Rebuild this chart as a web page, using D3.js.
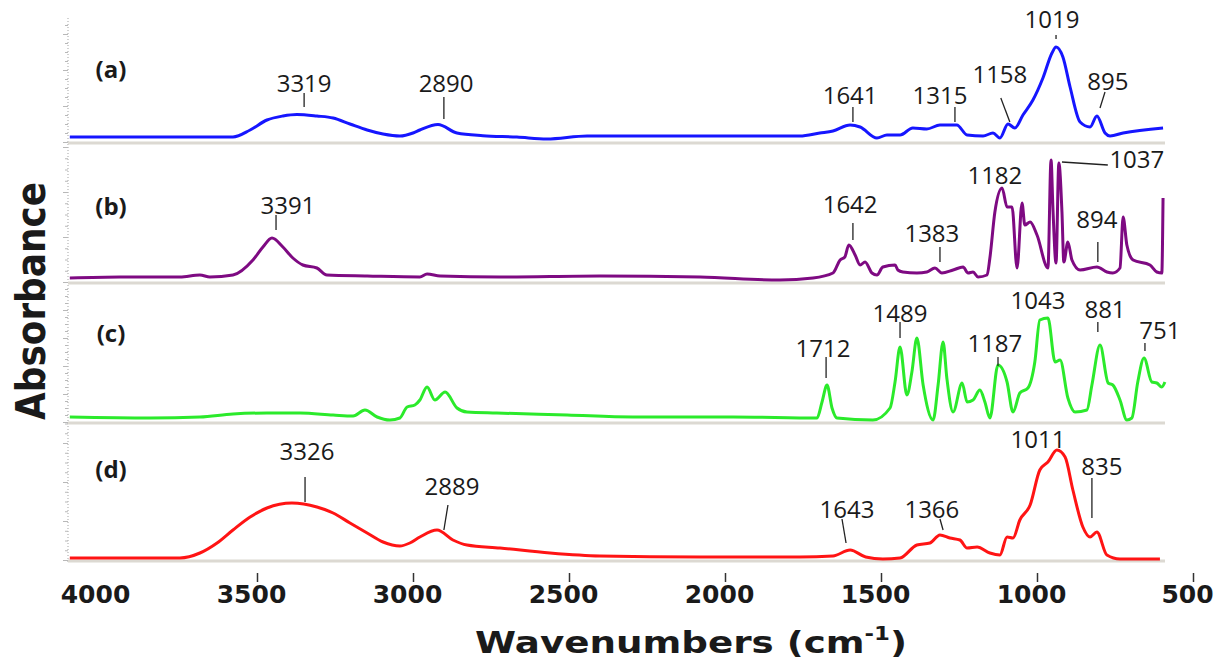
<!DOCTYPE html>
<html>
<head>
<meta charset="utf-8">
<script src="https://cdnjs.cloudflare.com/ajax/libs/d3/7.8.5/d3.min.js"></script>
<style>
  body { margin: 0; background: #fff; }
</style>
</head>
<body>
<script>
// FTIR spectra, four stacked panels (a)-(d)

var xTicks = [4000, 3500, 3000, 2500, 2000, 1500, 1000, 500];

// [wavenumber, absorbance (a.u.)]
var spectrumA = [
  [4100,.05],[3843,.05],[3577,.05],[3522,.12],[3468,.22],[3417,.26],[3372,.275],[3308,.26],
  [3256,.24],[3202,.18],[3147,.12],[3096,.08],[3042,.06],[3000,.09],[2978,.12],[2920,.175],
  [2859,.09],[2776,.063],[2667,.05],[2571,.03],[2442,.06],[1760,.06],[1696,.09],[1654,.11],
  [1599,.17],[1567,.15],[1513,.04],[1481,.07],[1439,.07],[1398,.14],[1353,.13],[1311,.17],
  [1257,.17],[1224,.07],[1173,.06],[1141,.09],[1119,.04],[1093,.18],[1071,.14],[1045,.27],
  [1013,.42],[981,.64],[952,.89],[939,.95],[917,.85],[894,.55],[862,.20],[830,.15],
  [808,.26],[782,.09],[766,.06],[724,.09],[596,.14]
];

var spectrumB = [
  [4100,.04],[3939,.05],[3747,.05],[3683,.07],[3651,.05],[3577,.07],[3513,.22],[3481,.35],
  [3452,.44],[3417,.35],[3385,.24],[3353,.17],[3308,.14],[3276,.07],[3147,.06],[2978,.05],
  [2955,.08],[2913,.06],[2721,.05],[2401,.06],[2080,.05],[1824,.02],[1718,.04],[1654,.09],
  [1631,.22],[1616,.25],[1603,.37],[1583,.27],[1567,.17],[1551,.20],[1529,.09],[1513,.07],
  [1494,.15],[1455,.17],[1446,.12],[1430,.10],[1385,.09],[1353,.10],[1327,.14],[1305,.09],
  [1269,.12],[1237,.15],[1221,.09],[1205,.10],[1189,.05],[1160,.07],[1151,.24],[1135,.70],
  [1112,.94],[1096,.75],[1080,.75],[1064,.14],[1048,.79],[1039,.57],[1022,.60],[1000,.47],
  [965,.14],[955,1.22],[949,.74],[939,.19],[930,1.19],[920,.70],[914,.20],[901,.40],
  [888,.22],[862,.12],[808,.15],[776,.10],[757,.09],[734,.14],[724,.65],[712,.37],
  [692,.22],[638,.17],[616,.10],[600,.09],[596,.84]
];

var spectrumC = [
  [4100,.05],[3843,.04],[3683,.05],[3577,.08],[3468,.09],[3362,.09],[3256,.07],[3192,.06],
  [3154,.12],[3115,.05],[3074,.02],[3042,.04],[3019,.15],[2994,.17],[2978,.22],[2955,.35],
  [2930,.22],[2897,.30],[2859,.14],[2827,.10],[2731,.09],[2506,.07],[2295,.05],[1974,.05],
  [1705,.04],[1689,.20],[1673,.37],[1657,.14],[1641,.04],[1526,.02],[1471,.14],[1455,.40],
  [1439,.75],[1417,.27],[1401,.50],[1385,.84],[1365,.37],[1333,.02],[1317,.37],[1301,.80],
  [1289,.44],[1269,.10],[1240,.39],[1224,.20],[1205,.22],[1183,.32],[1167,.20],[1151,.04],
  [1125,.57],[1096,.40],[1077,.10],[1055,.29],[1029,.34],[1007,.60],[991,1.02],[965,1.04],
  [942,.60],[926,.62],[901,.24],[878,.10],[840,.12],[824,.37],[798,.77],[772,.39],
  [757,.37],[734,.22],[712,.02],[696,.04],[677,.40],[657,.64],[632,.40],[616,.39],
  [600,.35],[590,.40]
];

var spectrumD = [
  [4100,.02],[3747,.02],[3683,.07],[3628,.17],[3577,.30],[3522,.43],[3468,.52],[3388,.57],
  [3308,.53],[3256,.47],[3202,.37],[3147,.27],[3096,.18],[3042,.14],[3010,.17],[2978,.23],
  [2923,.30],[2872,.20],[2827,.15],[2721,.12],[2561,.07],[2401,.04],[2080,.03],[1760,.03],
  [1654,.04],[1599,.10],[1549,.03],[1494,.01],[1439,.02],[1385,.15],[1343,.17],[1311,.25],
  [1279,.22],[1247,.20],[1224,.12],[1192,.13],[1151,.07],[1119,.05],[1096,.23],[1077,.22],
  [1055,.40],[1022,.55],[991,.90],[965,.98],[936,1.10],[910,1.03],[885,.70],[853,.33],
  [830,.23],[808,.28],[776,.05],[734,.01],[606,.01]
];

// peak labels: text, text centre [wn, abs], leader line [wn1, abs1, wn2, abs2]
var notesA = [
  ["3319", 3349, .60, [3349, .49, 3349, .35]],
  ["2890", 2894, .60, [2901, .45, 2901, .23]],
  ["1641", 1599, .48, [1590, .35, 1590, .20]],
  ["1315", 1311, .48, [1263, .35, 1263, .20]],
  ["1158", 1119, .69, [1116, .44, 1087, .20]],
  ["1019", 952, 1.24, [939, 1.07, 939, 1.03]],
  ["895", 773, .62, [782, .50, 798, .34]]
];
var notesB = [
  ["3391", 3401, .78, [3439, .67, 3439, .52]],
  ["1642", 1599, .79, [1590, .59, 1590, .42]],
  ["1383", 1337, .50, [1311, .35, 1311, .20]],
  ["1182", 1135, 1.08, null],
  ["1037", 680, 1.24, [920, 1.20, 773, 1.17]],
  ["894", 808, .64, [805, .40, 805, .20]]
];
var notesC = [
  ["1712", 1686, .75, [1676, .65, 1676, .44]],
  ["1489", 1439, 1.10, [1439, 1.00, 1439, .84]],
  ["1187", 1135, .80, [1125, .65, 1125, .56]],
  ["1043", 997, 1.23, null],
  ["881", 782, 1.14, [805, 1.00, 805, .90]],
  ["751", 606, .93, [654, .79, 654, .71]]
];
var notesD = [
  ["3326", 3340, 1.10, [3346, .83, 3346, .58]],
  ["2889", 2875, .75, [2888, .55, 2901, .30]],
  ["1643", 1609, .52, [1625, .41, 1612, .17]],
  ["1366", 1337, .52, [1311, .41, 1301, .30]],
  ["1011", 997, 1.22, null],
  ["835", 792, .95, [824, .82, 824, .42]]
];

var panelNames = ["(a)", "(b)", "(c)", "(d)"];
var panelColors = ["#1616ff", "#7e0a82", "#2bea2b", "#ff1414"];

var width = 1229, height = 663;
var svg = d3.select("body").append("svg")
    .attr("width", width)
    .attr("height", height);

var x = d3.scaleLinear().domain([4000, 500]).range([101, 1193]);

var panels = [
  {data: spectrumA, notes: notesA, base: 142, top: 20, step: 0.36, nameY: .74},
  {data: spectrumB, notes: notesB, base: 282, top: 145, step: 0.45, nameY: .77},
  {data: spectrumC, notes: notesC, base: 422, top: 285, step: 0.28, nameY: .90},
  {data: spectrumD, notes: notesD, base: 560, top: 423, step: 0.39, nameY: .92}
];

var axisX = 68, plotRight = 1165;

// y axis: faint dotted line
svg.append("line")
    .attr("x1", axisX).attr("x2", axisX)
    .attr("y1", 18).attr("y2", 562)
    .attr("stroke", "#c4c4c4")
    .attr("stroke-width", 1.5)
    .attr("stroke-dasharray", "1,2");

panels.forEach(function(p, i) {
  var y = d3.scaleLinear().domain([0, 1]).range([p.base, p.base - 100]);
  var maxV = (p.base - p.top) / 100;

  // minor + major ticks
  var minor = d3.range(0, maxV + 0.001, p.step / 4);
  var major = d3.range(0, maxV + 0.001, p.step);
  var gMinor = svg.append("g").attr("transform", "translate(" + axisX + ",0)")
      .call(d3.axisLeft(y).tickValues(minor).tickSize(3).tickFormat(""));
  var gMajor = svg.append("g").attr("transform", "translate(" + axisX + ",0)")
      .call(d3.axisLeft(y).tickValues(major).tickSize(5).tickFormat(""));
  [gMinor, gMajor].forEach(function(g) {
    g.select(".domain").remove();
    g.selectAll("line").attr("stroke", "#b8b8b8").attr("stroke-width", 1);
  });

  // panel baseline
  svg.append("line")
      .attr("x1", axisX).attr("x2", plotRight)
      .attr("y1", p.base + 1).attr("y2", p.base + 1)
      .attr("stroke", "#dcd9d2")
      .attr("stroke-width", 3);

  var line = d3.line()
      .x(function(d) { return x(d[0]); })
      .y(function(d) { return y(d[1]); })
      .curve(d3.curveMonotoneX);

  svg.append("path")
      .datum(p.data)
      .attr("d", line)
      .attr("fill", "none")
      .attr("stroke", panelColors[i])
      .attr("stroke-width", 3)
      .attr("stroke-linejoin", "round");

  // panel letter
  svg.append("text")
      .attr("x", x(3968))
      .attr("y", y(p.nameY))
      .attr("text-anchor", "middle")
      .attr("dominant-baseline", "central")
      .attr("font-family", "Open Sans")
      .attr("font-weight", "bold")
      .attr("font-size", 24)
      .attr("fill", "#1a1a1a")
      .text(panelNames[i]);

  // peak annotations
  p.notes.forEach(function(n) {
    if (n[3]) {
      svg.append("line")
          .attr("x1", x(n[3][0])).attr("y1", y(n[3][1]))
          .attr("x2", x(n[3][2])).attr("y2", y(n[3][3]))
          .attr("stroke", "#222")
          .attr("stroke-width", 1.3);
    }
    svg.append("text")
        .attr("x", x(n[1]))
        .attr("y", y(n[2]))
        .attr("text-anchor", "middle")
        .attr("dominant-baseline", "central")
        .attr("font-family", "Open Sans")
        .attr("font-size", 24)
        .attr("fill", "#1a1a1a")
        .text(n[0]);
  });
});

// x axis
var gx = svg.append("g")
    .attr("transform", "translate(0,573)")
    .call(d3.axisBottom(x).tickValues(xTicks).tickSize(9).tickPadding(3).tickFormat(d3.format("d")));
gx.select(".domain").remove();
gx.selectAll("line").attr("stroke", "#333").attr("stroke-width", 1.5);
gx.selectAll(".tick").filter(function(d) { return d === 4000; }).select("line").remove();
gx.selectAll("text")
    .attr("font-family", "DejaVu Sans")
    .attr("font-weight", "bold")
    .attr("font-size", 25)
    .attr("dx", -6)
    .attr("fill", "#1a1a1a");

// axis titles
var xt = svg.append("text")
    .attr("x", 691)
    .attr("y", 653)
    .attr("text-anchor", "middle")
    .attr("font-family", "DejaVu Sans")
    .attr("font-weight", "bold")
    .attr("font-size", 31)
    .attr("fill", "#1a1a1a")
    .attr("textLength", 432)
    .attr("lengthAdjust", "spacingAndGlyphs");
xt.append("tspan").text("Wavenumbers (cm");
xt.append("tspan").attr("dy", -13).attr("font-size", 19).text("-1");
xt.append("tspan").attr("dy", 13).text(")");

svg.append("text")
    .attr("transform", "translate(45,301) rotate(-90)")
    .attr("text-anchor", "middle")
    .attr("font-family", "DejaVu Sans")
    .attr("font-weight", "bold")
    .attr("font-size", 40)
    .attr("fill", "#1a1a1a")
    .attr("textLength", 238)
    .attr("lengthAdjust", "spacingAndGlyphs")
    .text("Absorbance");
</script>
</body>
</html>
